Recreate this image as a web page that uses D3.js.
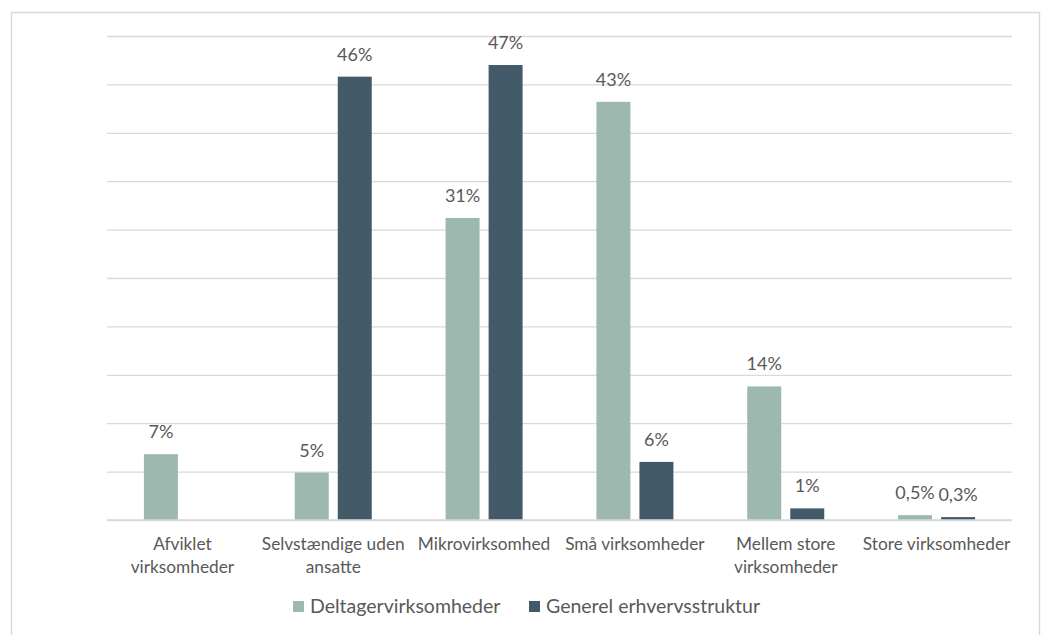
<!DOCTYPE html>
<meta charset="utf-8">
<style>
body { margin: 0; background: #fff; }
text { font-family: Lato, "Noto Sans", sans-serif; fill: #595959; }
</style>
<body>
<svg id="chart" width="1041" height="635"></svg>
<script src="https://d3js.org/d3.v7.min.js"></script>
<script>
var categories = [["Afviklet", "virksomheder"], ["Selvstændige uden", "ansatte"], ["Mikrovirksomhed"],
  ["Små virksomheder"], ["Mellem store", "virksomheder"], ["Store virksomheder"]];
var catKeys = categories.map(function(c) { return c.join(" "); });
var seriesNames = ["Deltagervirksomheder", "Generel erhvervsstruktur"];
var seriesColors = ["#9db8ae", "#435a69"];
var deltager = [6.8, 4.9, 31.2, 43.2, 13.8, 0.5];
var generel = [null, 45.8, 47.0, 6.0, 1.2, 0.3];
var deltagerLabels = ["7%", "5%", "31%", "43%", "14%", "0,5%"];
var generelLabels = [null, "46%", "47%", "6%", "1%", "0,3%"];
var yTicks = [0, 5, 10, 15, 20, 25, 30, 35, 40, 45, 50];

var svg = d3.select("#chart");
var margin = {top: 36, left: 107, right: 29, bottom: 115};
var width = +svg.attr("width") - margin.left - margin.right,
    height = +svg.attr("height") - margin.top - margin.bottom;

// outer frame
svg.append("rect")
  .attr("x", 11.5).attr("y", 12.5)
  .attr("width", 1028).attr("height", 640)
  .attr("fill", "none").attr("stroke", "#d9d9d9").attr("stroke-width", 1.5);

var g = svg.append("g").attr("transform", "translate(" + margin.left + "," + margin.top + ")");

var x0 = d3.scaleBand().domain(catKeys).range([0, width]);
var groupW = 77;
var x1 = d3.scaleBand().domain(seriesNames)
  .range([(x0.bandwidth() - groupW) / 2, (x0.bandwidth() + groupW) / 2])
  .paddingInner(0.21);
var y = d3.scaleLinear().domain([0, 50]).range([height, 0]);

// gridlines
g.append("g")
  .call(d3.axisLeft(y).tickValues(yTicks).tickSize(-width).tickFormat(""))
  .call(function(a) {
    a.select(".domain").remove();
    a.selectAll("line").attr("stroke", "#d9d9d9").attr("stroke-width", 1.3);
  });

var rows = catKeys.map(function(k, i) {
  return {key: k, values: [
    {s: seriesNames[0], v: deltager[i], label: deltagerLabels[i]},
    {s: seriesNames[1], v: generel[i], label: generelLabels[i]}
  ]};
});

var groups = g.selectAll(".grp").data(rows).enter().append("g")
  .attr("transform", function(d) { return "translate(" + x0(d.key) + ",0)"; });

var cells = groups.selectAll(".cell")
  .data(function(d) { return d.values.filter(function(v) { return v.v != null; }); })
  .enter();

cells.append("rect")
  .attr("x", function(d) { return x1(d.s); })
  .attr("y", function(d) { return y(d.v); })
  .attr("width", x1.bandwidth())
  .attr("height", function(d) { return height - y(d.v); })
  .attr("fill", function(d) { return seriesColors[seriesNames.indexOf(d.s)]; });

cells.append("text")
  .attr("x", function(d) { return x1(d.s) + x1.bandwidth() / 2; })
  .attr("y", function(d) { return y(d.v) - 16; })
  .attr("text-anchor", "middle")
  .style("font-size", "18px")
  .text(function(d) { return d.label; });

// baseline
g.append("line")
  .attr("x1", 0).attr("x2", width)
  .attr("y1", height).attr("y2", height)
  .attr("stroke", "#d9d9d9").attr("stroke-width", 1.5);

// category labels
var xa = g.append("g").attr("transform", "translate(0," + height + ")");
categories.forEach(function(lines, i) {
  var t = xa.append("text")
    .attr("x", x0(catKeys[i]) + x0.bandwidth() / 2)
    .attr("y", 30)
    .attr("text-anchor", "middle")
    .style("font-size", "17.3px");
  lines.forEach(function(l, j) {
    t.append("tspan").attr("x", x0(catKeys[i]) + x0.bandwidth() / 2)
      .attr("dy", j === 0 ? 0 : 22.5).text(l);
  });
});

// legend
var legend = svg.append("g");
var legX = [293, 529];
seriesNames.forEach(function(n, i) {
  legend.append("rect").attr("x", legX[i]).attr("y", 601)
    .attr("width", 11).attr("height", 11).attr("fill", seriesColors[i]);
  legend.append("text").attr("x", legX[i] + 17).attr("y", 613)
    .style("font-size", "19.5px").text(n);
});
</script>
</body>
